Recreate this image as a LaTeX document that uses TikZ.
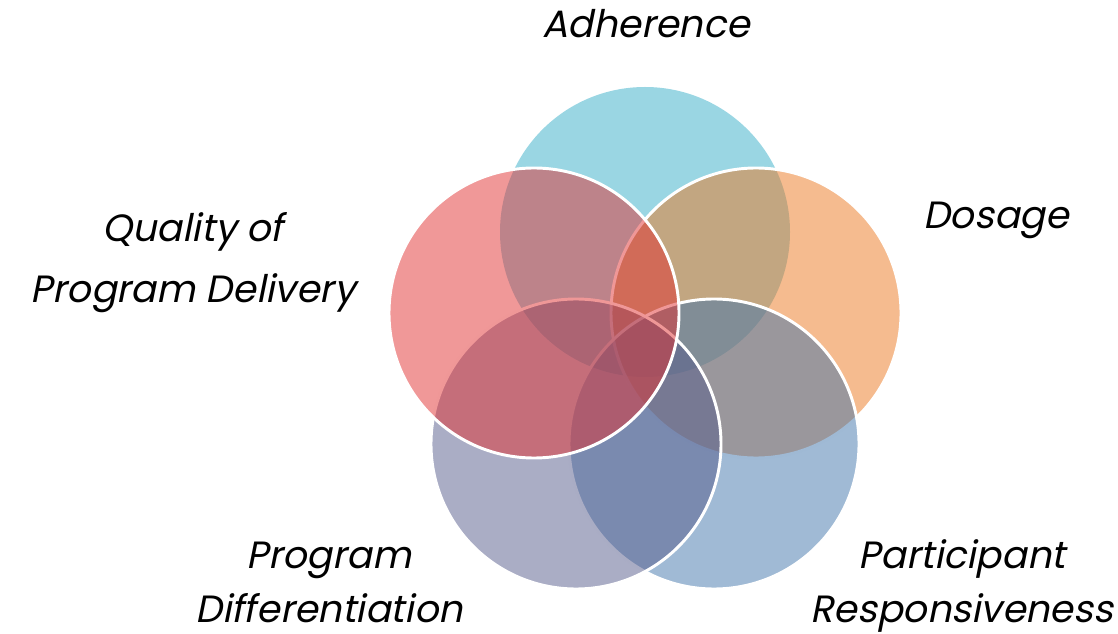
\documentclass[tikz,border=0pt]{standalone}
\usepackage{fontspec}
\newfontfamily\vennfont{Poppins}[AutoFakeSlant=0.2]
\usepackage{tikz}

\begin{document}
\begin{tikzpicture}[x=0.75pt,y=0.75pt,yscale=-1,xscale=1,
  ring/.style={fill opacity=0.5, draw=white, line width=2.2pt},
  lbl/.style={inner sep=0pt, align=center, anchor=base,
    font=\vennfont\itshape\fontsize{28.5}{46}\selectfont}]
\useasboundingbox (0,0) rectangle (1118,634);

%Shape: Circle [Adherence]
\fill [fill={rgb, 255:red, 53; green, 173; blue, 199 }, fill opacity=0.5] (645,232) circle [radius=145];
%Shape: Circle [Dosage]
\draw [ring, fill={rgb, 255:red, 235; green, 119; blue, 31 }] (756,313) circle [radius=145];
%Shape: Circle [Participant Responsiveness]
\draw [ring, fill={rgb, 255:red, 65; green, 117; blue, 171 }] (714,444) circle [radius=145];
%Shape: Circle [Program Differentiation]
\draw [ring, fill={rgb, 255:red, 85; green, 91; blue, 139 }] (576,444) circle [radius=145];
%Shape: Circle [Quality of Program Delivery]
\draw [ring, fill={rgb, 255:red, 225; green, 49; blue, 49 }] (534,313) circle [radius=145];

% Text Node
\draw (646,38) node [lbl] (adherence) {Adherence};
% Text Node
\draw (996,229) node [lbl] (dosage) {Dosage};
% Text Node (anchor base = last line)
\draw (193,303) node [lbl] (quality) {Quality of\\Program Delivery};
% Text Node
\draw (329,622) node [lbl] (differentiation) {Program\\[-5.5pt]Differentiation};
% Text Node
\draw (962,622) node [lbl] (responsiveness) {Participant\\[-5.5pt]Responsiveness};

\end{tikzpicture}
\end{document}
